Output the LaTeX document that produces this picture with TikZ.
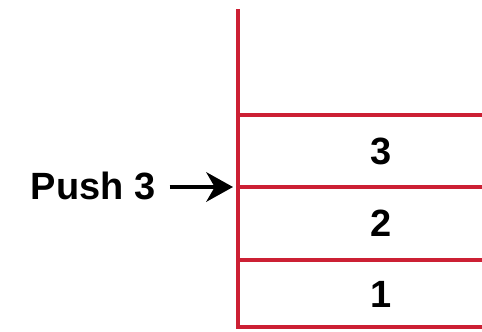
\documentclass[tikz,border=0pt]{standalone}
\usepackage{fontspec}
\setmainfont{Liberation Sans}
\usepackage{xcolor}
\usetikzlibrary{arrows.meta, positioning}
\definecolor{stackred}{RGB}{204,32,52}

\begin{document}
\begin{tikzpicture}[
        x=0.025cm, y=-0.025cm,
        wall/.style={stackred, line width=2.2pt},
        item/.style={font=\fontsize{27}{30}\selectfont\bfseries, inner sep=0pt},
        arrow/.style={-{Stealth[length=19pt, width=21pt, inset=6pt]}, line width=2.6pt, black}
    ]
        \useasboundingbox (0,0) rectangle (482,331);

        % Stack: open top, three filled slots
        \draw[wall] (238,9) -- (238,327) -- (482,327);
        \draw[wall] (238,260) -- (482,260);
        \draw[wall] (238,187) -- (482,187);
        \draw[wall] (238,115) -- (482,115);

        \node[item] (one) at (381,294) {1};
        \node[item] (two) at (381,223) {2};
        \node[item] (three) at (381,151) {3};

        % Incoming push
        \node[item] (push) at (93,186) {Push 3};
        \coordinate[right=10pt of push.east] (start);
        \coordinate (top) at (233,187);
        \draw[arrow] (start |- top) -- (top);

    \end{tikzpicture}
\end{document}
